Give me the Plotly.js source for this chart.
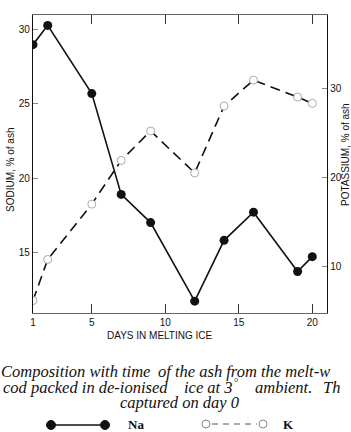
<!DOCTYPE html>
<html><head><meta charset="utf-8">
<script src="https://cdn.plot.ly/plotly-3.0.1.min.js"></script>
<style>body{margin:0;background:#fff}#c{width:351px;height:432px}</style>
</head><body><div id="c"></div>
<script>
// Data
const days_na = [1, 2, 5, 7, 9, 12, 14, 16, 19, 20];
const sodium = [29.0, 30.3, 25.7, 18.9, 17.0, 11.7, 15.8, 17.7, 13.7, 14.7];
const days_k = [1, 2, 5, 7, 9, 12, 14, 16, 19, 20];
const potassium = [6.2, 10.8, 17.0, 21.9, 25.2, 20.5, 28.0, 30.9, 29.0, 28.3];
const xTicks = [1, 5, 10, 15, 20];
const naTicks = [15, 20, 25, 30];
const kTicks = [10, 20, 30];
// caption pieces: [text, left x px, centre y px, font size]
const captionPieces = [
  ["Composition with time", 0, 372, 16.5],
  ["of the ash from the melt-w", 157, 372, 16.5],
  ["cod packed in de-ionised", 2, 387, 16.5],
  ["ice at 3", 183, 387, 16.5],
  ["\u00b0", 233, 382, 11],
  ["ambient.", 254, 387, 16.5],
  ["Th", 322, 387, 16.5]
];
const captionLast = "captured on day 0";

const L = 33, R = 327, T = 15, B = 313, W = 351, H = 432;
const px = v => (v - L) / (R - L);
const py = v => (B - v) / (B - T);

const traces = [
  {x: days_na, y: sodium, type: 'scatter', mode: 'lines+markers', name: 'Na',
   line: {color: '#111', width: 1.6},
   marker: {color: '#111', size: 9}},
  {x: days_k, y: potassium, type: 'scatter', mode: 'lines+markers', name: 'K', yaxis: 'y2',
   line: {color: '#111', width: 1.6, dash: '10px,6px'},
   marker: {color: '#fff', size: 8, line: {color: '#aaa', width: 1}}}
];

const sans = 'Liberation Sans, Arial, sans-serif';
const tickFont = {family: sans, size: 10, color: '#111'};
function ann(text, x, y, opts) {
  return Object.assign({text: text, xref: 'paper', yref: 'paper', x: px(x), y: py(y),
    xanchor: 'center', yanchor: 'middle', showarrow: false}, opts);
}
const annotations = [
  ann('DAYS IN MELTING ICE', 160, 335, {font: {family: sans, size: 10, color: '#111'}}),
  ann('SODIUM, % of ash', 10, 170, {textangle: -90, font: {family: sans, size: 10, color: '#111'}}),
  ann('POTASSIUM, % of ash', 345, 155, {textangle: -90, font: {family: sans, size: 10, color: '#111'}}),
  ann('Na', 126, 425, {xanchor: 'left', font: {family: 'Liberation Serif, serif', size: 13, color: '#111', weight: 'bold'}}),
  ann('K', 281, 424, {xanchor: 'left', font: {family: 'Liberation Serif, serif', size: 13, color: '#111', weight: 'bold'}})
];
captionPieces.forEach(p => {
  annotations.push(ann(p[0], p[1], p[2], {xanchor: 'left', align: 'left', borderpad: 0,
    font: {family: 'Liberation Serif, serif', size: p[3], style: p[0] === '\u00b0' ? 'normal' : 'italic', color: '#111'}}));
});
annotations.push(ann(captionLast, 180, 402, {borderpad: 0,
  font: {family: 'Liberation Serif, serif', size: 16.5, style: 'italic', color: '#111'}}));

function dot(cx, cy, d, fill, stroke) {
  return {type: 'circle', xref: 'paper', yref: 'paper', xsizemode: 'pixel', ysizemode: 'pixel',
    xanchor: px(cx), yanchor: py(cy), x0: -d/2, x1: d/2, y0: -d/2, y1: d/2,
    fillcolor: fill, line: {color: stroke, width: 1}};
}
const shapes = [
  {type: 'line', xref: 'paper', yref: 'paper', x0: px(51), x1: px(105), y0: py(425), y1: py(425),
   line: {color: '#111', width: 1.3}},
  dot(51, 425, 9, '#111', '#111'), dot(105, 425, 9, '#111', '#111'),
  {type: 'line', xref: 'paper', yref: 'paper', x0: px(212), x1: px(257), y0: py(424), y1: py(424),
   line: {color: '#555', width: 1, dash: '6px,5px'}},
  dot(206, 424, 8, '#fff', '#888'), dot(263, 424, 8, '#fff', '#888')
];

const layout = {
  width: W, height: H, margin: {l: L, r: W - R, t: T, b: H - B, pad: 0},
  paper_bgcolor: '#fff', plot_bgcolor: '#fff', showlegend: false,
  xaxis: {range: [1, 21], tickvals: xTicks, ticks: 'inside', ticklen: 9, tickcolor: '#333',
    showline: true, linecolor: '#666', linewidth: 1, mirror: 'ticks', showgrid: false,
    zeroline: false, tickfont: tickFont},
  yaxis: {range: [10.9, 31], tickvals: naTicks, ticks: 'inside', ticklen: 5, tickcolor: '#888',
    showline: true, linecolor: '#111', linewidth: 1.2, showgrid: false, zeroline: false, tickfont: tickFont},
  yaxis2: {range: [4.8, 38.2], tickvals: kTicks, ticks: 'inside', ticklen: 5, tickcolor: '#888',
    overlaying: 'y', side: 'right', showline: true, linecolor: '#111', linewidth: 1.2,
    showgrid: false, zeroline: false, tickfont: tickFont},
  annotations: annotations, shapes: shapes
};
Plotly.newPlot('c', traces, layout, {staticPlot: true, displayModeBar: false});
</script></body></html>
